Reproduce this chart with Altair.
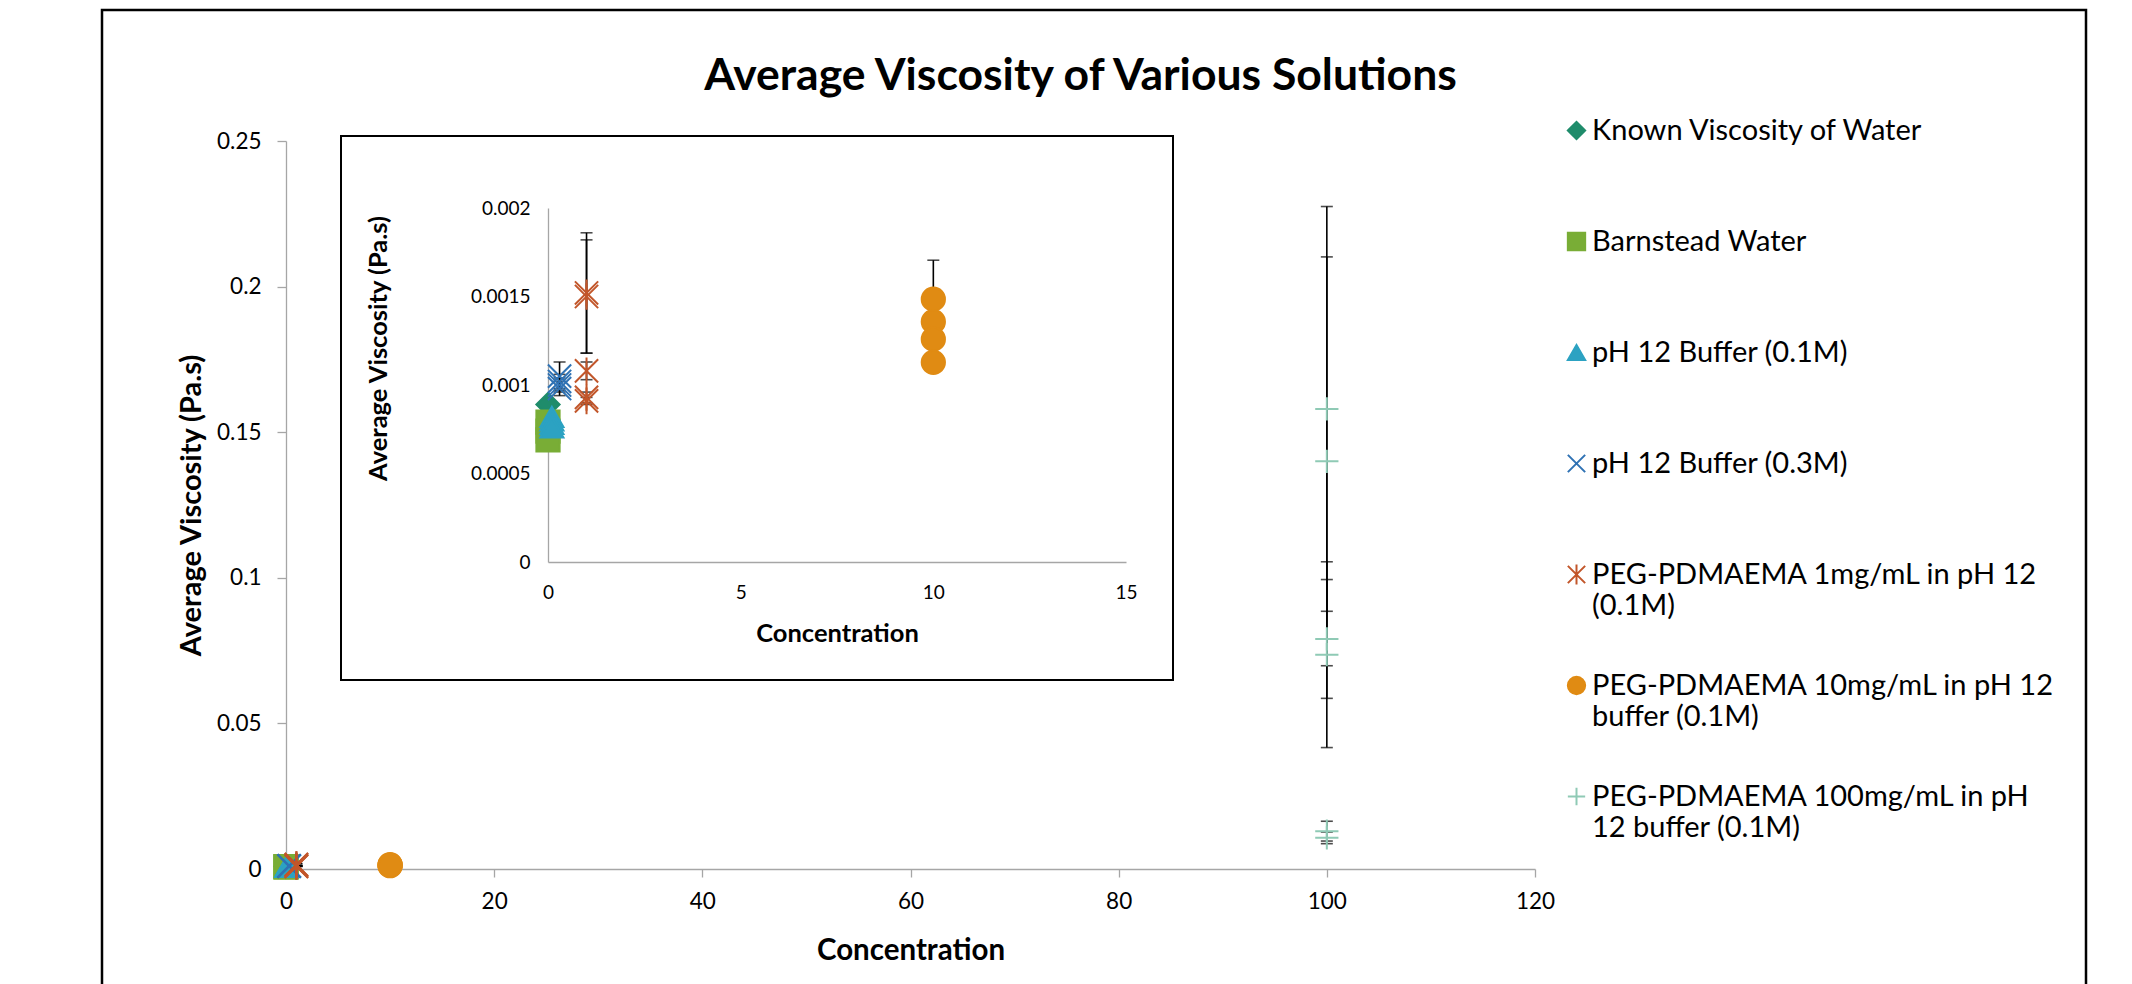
import altair as alt
import pandas as pd

# ---------------- data ----------------
SERIES = [
    "Known Viscosity of Water",
    "Barnstead Water",
    "pH 12 Buffer (0.1M)",
    "pH 12 Buffer (0.3M)",
    "PEG-PDMAEMA 1mg/mL in pH 12\n(0.1M)",
    "PEG-PDMAEMA 10mg/mL in pH 12\nbuffer (0.1M)",
    "PEG-PDMAEMA 100mg/mL in pH\n12 buffer (0.1M)",
]
CONCENTRATION = [0, 0, 0.1, 0.3, 1, 10, 100]

water_visc = [0.00089]
water_err = [0.0]
barnstead_visc = [0.00079, 0.00074, 0.00069]
barnstead_err = [0.00002, 0.00002, 0.00002]
ph12_01_visc = [0.00082, 0.00080, 0.00078, 0.00076]
ph12_01_err = [0.00003, 0.00003, 0.00003, 0.00003]
ph12_03_visc = [0.00105, 0.00102, 0.00100, 0.00098]
ph12_03_err = [0.00008, 0.00004, 0.00004, 0.00004]
peg1_visc = [0.00152, 0.00150, 0.00108, 0.00093, 0.00091]
peg1_err = [0.00034, 0.00032, 0.00005, 0.00003, 0.00002]
peg10_visc = [0.001485, 0.001358, 0.001259, 0.001128]
peg10_err = [0.00022, 0.00005, 0.00005, 0.00005]
peg100_visc = [0.158, 0.140, 0.079, 0.0736, 0.013, 0.0107]
peg100_err = [0.0695, 0.0702, 0.0204, 0.0319, 0.0034, 0.0020]

VISC = [water_visc, barnstead_visc, ph12_01_visc, ph12_03_visc, peg1_visc, peg10_visc, peg100_visc]
ERR = [water_err, barnstead_err, ph12_01_err, ph12_03_err, peg1_err, peg10_err, peg100_err]

COLORS = ["#1f8c6b", "#79ad36", "#2ca2c2", "#2f72b4", "#c2562a", "#e08b13", "#8fcab5"]
SHAPES = [
    "diamond",
    "square",
    "triangle-up",
    "M-1,-1L1,1M-1,1L1,-1",
    "M-1,-1L1,1M-1,1L1,-1M0,-1.15L0,1.15",
    "circle",
    "M-1,0L1,0M0,-1L0,1",
]

MAIN_X_TICKS = [0, 20, 40, 60, 80, 100, 120]
MAIN_Y_TICKS = [0, 0.05, 0.1, 0.15, 0.2, 0.25]
INSET_X_TICKS = [0, 5, 10, 15]
INSET_Y_TICKS = [0, 0.0005, 0.001, 0.0015, 0.002]

rows = []
for name, conc, vals, errs in zip(SERIES, CONCENTRATION, VISC, ERR):
    for v, e in zip(vals, errs):
        rows.append({"series": name, "conc": conc, "visc": v, "err": e})
df = pd.DataFrame(rows)

FONT = "Lato"
GREY = "#a6a6a6"

# ---------------- layout (pixels relative to the main plot area) ----------------
W, H = 1249, 728
INSET_X_RANGE = [262, 840]
INSET_Y_RANGE = [421, 67]

legend = alt.Legend(
    title=None,
    orient="none",
    legendX=1276,
    legendY=-66,
    padding=0,
    clipHeight=111,
    rowPadding=0,
    symbolSize=300,
    symbolStrokeWidth=2,
    symbolOpacity=1,
    labelFont=FONT,
    labelFontSize=29,
    labelColor="black",
    labelLimit=900,
    labelOffset=1,
    labelExpr="split(datum.label, '\\n')",
)

fill = alt.Fill("series:N", scale=alt.Scale(domain=SERIES, range=COLORS), legend=legend)
stroke = alt.Stroke("series:N", scale=alt.Scale(domain=SERIES, range=COLORS), legend=legend)
shape = alt.Shape("series:N", scale=alt.Scale(domain=SERIES, range=SHAPES), legend=legend)

base = alt.Chart(df)

# ---------------- main chart ----------------
main_xscale = alt.Scale(domain=[0, 120], nice=False)
main_yscale = alt.Scale(domain=[0, 0.25], nice=False)
main_xaxis = alt.Axis(
    values=MAIN_X_TICKS, grid=False, domainColor=GREY, domainWidth=1.3,
    tickColor=GREY, tickSize=8, tickWidth=1.3,
    labelFont=FONT, labelFontSize=22.5, labelColor="black", labelPadding=13, labelFlush=False,
    titleFont=FONT, titleFontSize=29.5, titleFontWeight="bold", titleColor="black", titlePadding=24,
)
main_yaxis = alt.Axis(
    values=MAIN_Y_TICKS, grid=False, domainColor=GREY, domainWidth=1.3,
    tickColor=GREY, tickSize=9, tickWidth=1.3,
    labelFont=FONT, labelFontSize=22.5, labelColor="black", labelPadding=16, labelFlush=False,
    labelExpr="'' + datum.value",
    titleFont=FONT, titleFontSize=29, titleFontWeight="bold", titleColor="black", titlePadding=10,
)

main_err = base.transform_filter("datum.err > 0").transform_calculate(
    lo="datum.visc - datum.err", hi="datum.visc + datum.err"
).mark_errorbar(ticks=True, size=12, thickness=1.6, color="black").encode(
    x=alt.X("conc:Q", scale=main_xscale, axis=main_xaxis, title="Concentration"),
    y=alt.Y("lo:Q", scale=main_yscale, axis=main_yaxis, title="Average Viscosity (Pa.s)"),
    y2="hi:Q",
)
main_pts = base.mark_point(opacity=1, strokeWidth=2, size=540).encode(
    x=alt.X("conc:Q", scale=main_xscale, axis=main_xaxis, title="Concentration"),
    y=alt.Y("visc:Q", scale=main_yscale, axis=main_yaxis, title="Average Viscosity (Pa.s)"),
    fill=fill, stroke=stroke, shape=shape,
)
main_layer = alt.layer(main_err, main_pts)

# ---------------- inset chart ----------------
inset_xscale = alt.Scale(domain=[0, 15], range=INSET_X_RANGE, nice=False)
inset_yscale = alt.Scale(domain=[0, 0.002], range=INSET_Y_RANGE, nice=False)
inset_xaxis = alt.Axis(
    orient="bottom", offset=INSET_Y_RANGE[0] - H,
    values=INSET_X_TICKS, grid=False, domainColor=GREY, domainWidth=1.3,
    ticks=False, tickSize=0,
    labelFont=FONT, labelFontSize=19, labelColor="black", labelPadding=21, labelFlush=False,
    titleFont=FONT, titleFontSize=25.5, titleFontWeight="bold", titleColor="black", titlePadding=19,
)
inset_yaxis = alt.Axis(
    orient="left", offset=-INSET_X_RANGE[0],
    values=INSET_Y_TICKS, grid=False, domainColor=GREY, domainWidth=1.3,
    ticks=False, tickSize=0,
    labelFont=FONT, labelFontSize=19, labelColor="black", labelPadding=18, labelFlush=False,
    labelExpr="'' + datum.value",
    titleFont=FONT, titleFontSize=25.5, titleFontWeight="bold", titleColor="black", titlePadding=79,
    titleY=207,
)

inset_base = base.transform_filter("datum.conc <= 15")
inset_err = inset_base.transform_filter("datum.err > 0").transform_calculate(
    lo="datum.visc - datum.err", hi="datum.visc + datum.err"
).mark_errorbar(ticks=True, size=12, thickness=1.6, color="black").encode(
    x=alt.X("conc:Q", scale=inset_xscale, axis=inset_xaxis, title="Concentration"),
    y=alt.Y("lo:Q", scale=inset_yscale, axis=inset_yaxis, title="Average Viscosity (Pa.s)"),
    y2="hi:Q",
)
inset_pts = inset_base.mark_point(opacity=1, strokeWidth=2, size=540).encode(
    x=alt.X("conc:Q", scale=inset_xscale, axis=inset_xaxis, title="Concentration"),
    y=alt.Y("visc:Q", scale=inset_yscale, axis=inset_yaxis, title="Average Viscosity (Pa.s)"),
    fill=fill, stroke=stroke, shape=shape,
)
inset_layer = alt.layer(inset_err, inset_pts)

# ---------------- frames ----------------
frame_df = pd.DataFrame({"k": [0]})
outer_frame = alt.Chart(frame_df).mark_rect(fill="white", fillOpacity=0, stroke="black", strokeWidth=2.5).encode(
    x=alt.value(-184), x2=alt.value(1800), y=alt.value(-131), y2=alt.value(900)
)
inset_frame = alt.Chart(frame_df).mark_rect(fill="white", fillOpacity=0, stroke="black", strokeWidth=2).encode(
    x=alt.value(55), x2=alt.value(887), y=alt.value(-5), y2=alt.value(539)
)

chart = alt.layer(outer_frame, main_layer, inset_frame, inset_layer).resolve_scale(
    x="independent", y="independent"
).properties(
    width=W,
    height=H,
    padding={"left": 286, "top": 141, "right": 597, "bottom": 115},
    autosize=alt.AutoSizeParams(type="none"),
    background="white",
    title=alt.TitleParams(
        "Average Viscosity of Various Solutions",
        font=FONT, fontSize=44.5, fontWeight="bold", color="black",
        anchor="middle", frame="group", dx=170, offset=0, dy=126,
        baseline="alphabetic",
    ),
).configure_view(strokeWidth=0)

chart.save("out.html", embed_options={"renderer": "svg", "actions": False})
